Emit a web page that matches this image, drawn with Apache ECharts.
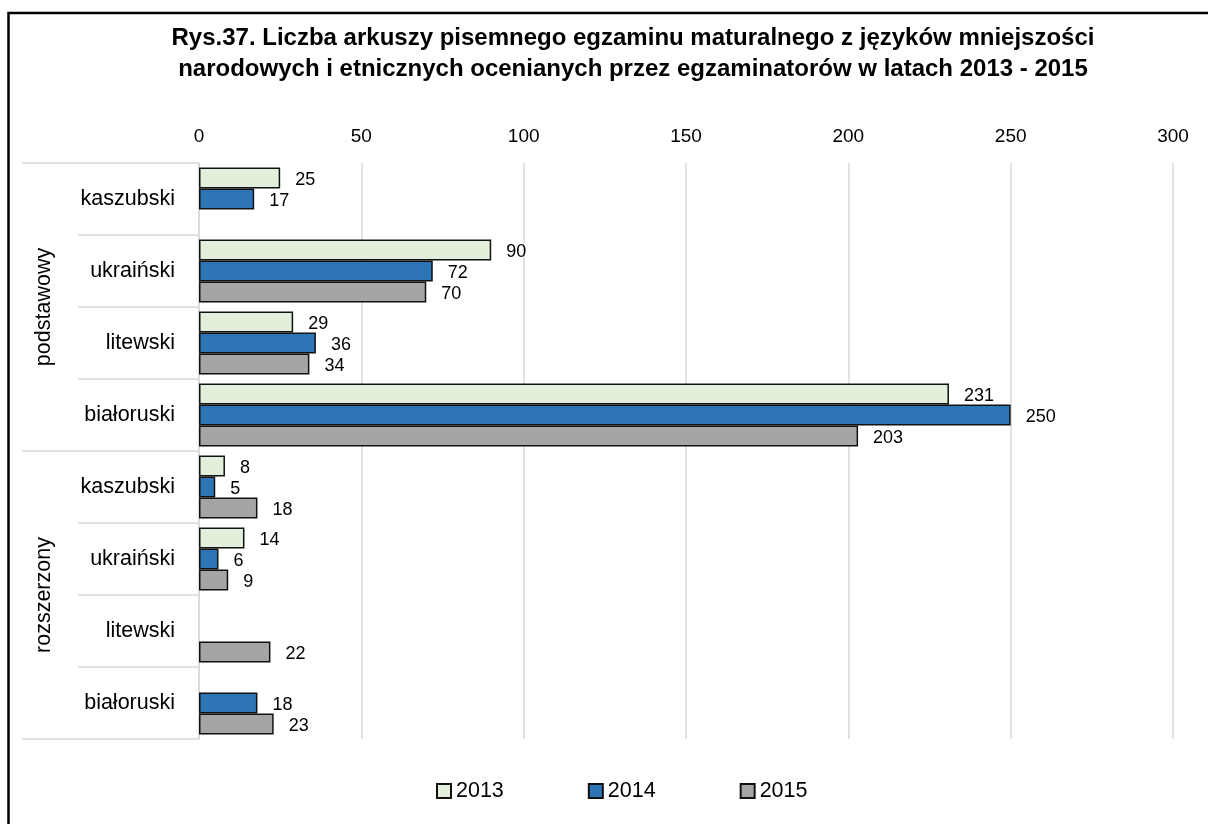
<!DOCTYPE html>
<html>
<head>
<meta charset="utf-8">
<script src="https://cdn.jsdelivr.net/npm/echarts@6/dist/echarts.min.js"></script>
<style>
  html, body { margin: 0; padding: 0; background: #fff; }
  #chart { width: 1208px; height: 824px; }
</style>
</head>
<body>
<div id="chart"></div>
<script>
// Languages (top to bottom) and their exam level groups
const languages = ['kaszubski', 'ukraiński', 'litewski', 'białoruski',
                   'kaszubski', 'ukraiński', 'litewski', 'białoruski'];
const levels = ['podstawowy', 'rozszerzony'];

// Number of exam sheets per year (null = no sheets)
const years = ['2013', '2014', '2015'];
const values2013 = [25, 90, 29, 231, 8, 14, null, null];
const values2014 = [17, 72, 36, 250, 5, 6, null, 18];
const values2015 = [null, 70, 34, 203, 18, 9, 22, 23];

const xTicks = { min: 0, max: 300, interval: 50 };

const FONT = "'Liberation Sans', Arial, sans-serif";
const GRID_GRAY = '#d9d9d9';
const colors = ['#e2efda', '#2e75b6', '#a5a5a5'];

function makeSeries(name, data, color) {
  return {
    name: name,
    type: 'bar',
    data: data,
    barWidth: 21,
    barGap: '0%',
    itemStyle: { color: color, borderColor: '#111', borderWidth: 1.5 },
    label: {
      show: true,
      position: 'right',
      distance: 15,
      offset: [0, 2],
      fontFamily: FONT,
      fontSize: 18,
      color: '#000'
    },
    emphasis: { disabled: true }
  };
}

const chart = echarts.init(document.getElementById('chart'), null, { renderer: 'canvas' });
chart.setOption({
  animation: false,
  backgroundColor: '#fff',
  title: {
    text: 'Rys.37. Liczba arkuszy pisemnego egzaminu maturalnego z języków mniejszości\nnarodowych i etnicznych ocenianych przez egzaminatorów w latach 2013 - 2015',
    left: 628,
    textAlign: 'center',
    top: 18,
    textStyle: {
      fontFamily: FONT,
      fontWeight: 'bold',
      fontSize: 24,
      lineHeight: 31,
      color: '#000'
    }
  },
  graphic: [{
    type: 'rect',
    shape: { x: 8.5, y: 13, width: 1400, height: 1000 },
    style: { fill: 'none', stroke: '#000', lineWidth: 2.5 },
    silent: true
  }],
  legend: {
    bottom: 17,
    left: 431,
    itemWidth: 14,
    itemHeight: 14,
    itemGap: 84,
    icon: 'rect',
    data: years,
    textStyle: { fontFamily: FONT, fontSize: 21.5, color: '#000' }
  },
  grid: { left: 199, right: 35, top: 163, bottom: 85, containLabel: false },
  xAxis: {
    type: 'value',
    position: 'top',
    min: xTicks.min,
    max: xTicks.max,
    interval: xTicks.interval,
    axisLine: { show: false },
    axisTick: { show: false },
    axisLabel: { fontFamily: FONT, fontSize: 19, color: '#000', margin: 17 },
    splitLine: { show: true, lineStyle: { color: GRID_GRAY, width: 1.5 } }
  },
  yAxis: [{
    type: 'category',
    data: languages,
    inverse: true,
    position: 'left',
    axisLine: { show: true, lineStyle: { color: GRID_GRAY, width: 1.5 } },
    axisTick: { show: true, length: 121, interval: 0, lineStyle: { color: GRID_GRAY, width: 1.5 } },
    axisLabel: { fontFamily: FONT, fontSize: 21.5, color: '#000', margin: 24, interval: 0 }
  }, {
    type: 'category',
    data: levels,
    inverse: true,
    position: 'left',
    axisLine: { show: false },
    axisTick: { show: true, length: 177, interval: 0, lineStyle: { color: GRID_GRAY, width: 1.5 } },
    axisLabel: { fontFamily: FONT, fontSize: 21.5, color: '#000', margin: 144, rotate: 90, interval: 0 }
  }],
  series: [
    makeSeries(years[0], values2013, colors[0]),
    makeSeries(years[1], values2014, colors[1]),
    makeSeries(years[2], values2015, colors[2])
  ]
});
</script>
</body>
</html>
